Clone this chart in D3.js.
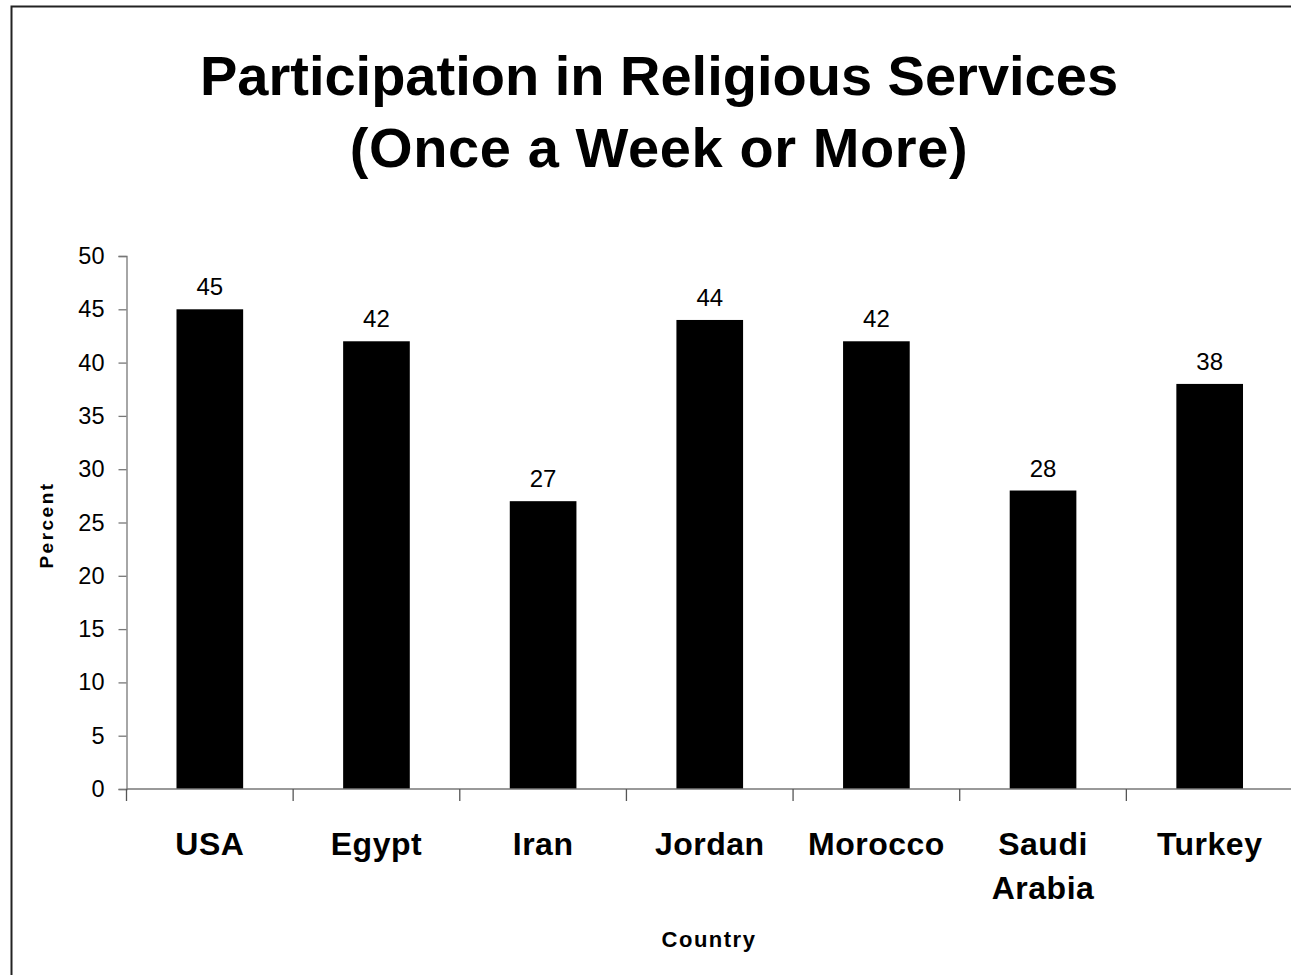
<!DOCTYPE html>
<html>
<head>
<meta charset="utf-8">
<script src="https://cdn.jsdelivr.net/npm/d3@7"></script>
<style>
  html, body { margin: 0; padding: 0; background: #fff; }
  svg { display: block; font-family: "Liberation Sans", Arial, sans-serif; }
</style>
</head>
<body>
<svg id="chart" width="1291" height="975"></svg>
<script>
const categories = [["USA"], ["Egypt"], ["Iran"], ["Jordan"], ["Morocco"], ["Saudi", "Arabia"], ["Turkey"]];
const values = [45, 42, 27, 44, 42, 28, 38];
const yTicks = [0, 5, 10, 15, 20, 25, 30, 35, 40, 45, 50];
const titleLines = ["Participation in Religious Services", "(Once a Week or More)"];
const yLabel = "Percent";
const xLabel = "Country";

(function () {
const svg = d3.select("#chart");

// outer frame
svg.append("rect").attr("x", 11.5).attr("y", 6.5).attr("width", 1300).attr("height", 1000)
  .attr("fill", "none").attr("stroke", "#222").attr("stroke-width", 2);

const pLeft = 126.5, pRight = 1293, pTop = 256, pBottom = 789;
const names = categories.map(c => c.join(" "));
const x = d3.scaleBand().domain(names).range([pLeft, pRight]).paddingInner(0.6).paddingOuter(0.3);
const y = d3.scaleLinear().domain([0, 50]).range([pBottom, pTop]);

// title
const title = svg.append("text").attr("text-anchor", "middle").attr("font-weight", "bold")
  .attr("font-size", 56).attr("fill", "#000");
titleLines.forEach((t, i) => {
  title.append("tspan").attr("x", 659).attr("y", 95 + i * 72)
    .attr("letter-spacing", i === 1 ? 0.6 : 0).text(t);
});

// bars
svg.append("g").selectAll("rect").data(values).join("rect")
  .attr("x", (d, i) => x(names[i]))
  .attr("y", d => y(d))
  .attr("width", x.bandwidth())
  .attr("height", d => y(0) - y(d))
  .attr("fill", "#000");

// value labels
svg.append("g").selectAll("text").data(values).join("text")
  .attr("x", (d, i) => x(names[i]) + x.bandwidth() / 2)
  .attr("y", d => y(d) - 14)
  .attr("text-anchor", "middle")
  .attr("font-size", 24)
  .attr("fill", "#000")
  .text(d => d);

// y axis
const yAxis = svg.append("g").attr("transform", `translate(${pLeft},0)`)
  .call(d3.axisLeft(y).tickValues(yTicks).tickSize(8).tickPadding(14).tickFormat(d3.format("d")));
yAxis.select(".domain").attr("stroke", "#777").attr("stroke-width", 1.3);
yAxis.selectAll(".tick line").attr("stroke", "#777").attr("stroke-width", 1.3);
yAxis.selectAll(".tick text").attr("font-size", 23.5).attr("fill", "#000")
  .attr("font-family", "Liberation Sans, Arial, sans-serif");

// x axis line and tick marks at band boundaries
const xAxisG = svg.append("g");
xAxisG.append("line").attr("x1", pLeft).attr("x2", pRight).attr("y1", pBottom).attr("y2", pBottom)
  .attr("stroke", "#777").attr("stroke-width", 1.3);
const step = x.step();
const boundaryX = names.map(n => x(n) - x.paddingInner() * step / 2);
boundaryX.push(x(names[names.length - 1]) + x.bandwidth() + x.paddingInner() * step / 2);
xAxisG.selectAll("line.tk").data(boundaryX).join("line").attr("class", "tk")
  .attr("x1", d => d).attr("x2", d => d).attr("y1", pBottom).attr("y2", pBottom + 12)
  .attr("stroke", "#555").attr("stroke-width", 1.3);

// category labels
const catG = svg.append("g");
categories.forEach((lines, i) => {
  const t = catG.append("text").attr("text-anchor", "middle").attr("font-weight", "bold")
    .attr("font-size", 32).attr("letter-spacing", 0.5).attr("fill", "#000");
  lines.forEach((ln, j) => {
    t.append("tspan").attr("x", x(names[i]) + x.bandwidth() / 2).attr("y", 855 + j * 44).text(ln);
  });
});

// axis titles
svg.append("text").attr("x", 709).attr("y", 947).attr("text-anchor", "middle")
  .attr("font-weight", "bold").attr("font-size", 22).attr("letter-spacing", 1.5).text(xLabel);
svg.append("text").attr("transform", "translate(53,525) rotate(-90)").attr("text-anchor", "middle")
  .attr("font-weight", "bold").attr("font-size", 19).attr("letter-spacing", 2.5).text(yLabel);
})();
</script>
</body>
</html>
